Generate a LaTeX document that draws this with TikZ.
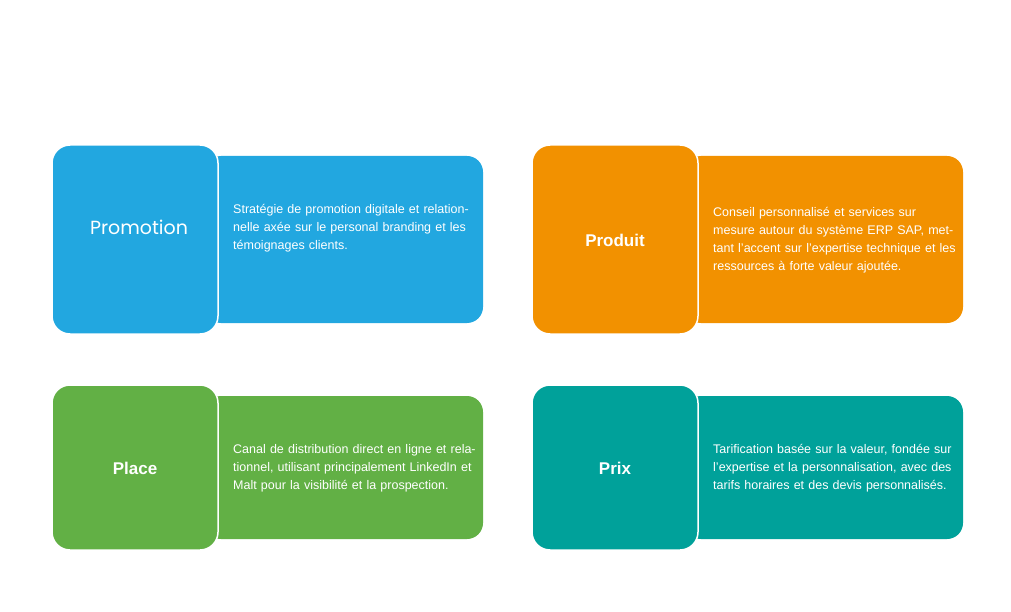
\documentclass[tikz,border=0pt]{standalone}
\usepackage{fontspec}
\setmainfont{Liberation Sans}
\newfontfamily\popf{Poppins}
\definecolor{cblue}{HTML}{22A7E0}
\definecolor{corange}{HTML}{F29100}
\definecolor{cgreen}{HTML}{62B045}
\definecolor{cteal}{HTML}{00A19A}
\begin{document}
\begin{tikzpicture}[x=1pt,y=-1pt,
  txtbox/.style={rounded corners=16pt},
  lblbox/.style={rounded corners=18pt,draw=white,line width=1.5pt},
  desc/.style={anchor=west,text=white,align=left,text width=250pt,font=\fontsize{12.5}{18}\selectfont,inner sep=0pt},
  lbl/.style={text=white,font=\bfseries\fontsize{17}{20}\selectfont}]
\useasboundingbox (0,0) rectangle (1011,612);
% Promotion
\fill[cblue,txtbox] (205,156) rectangle (483,323);
\filldraw[fill=cblue,lblbox] (52,145) rectangle (218,334);
\node[lbl,font=\popf\fontsize{19}{22}\selectfont] (l1) at (139,227) {Promotion};
\node[desc] (d1) at (233,228) {Stratégie de promotion digitale et relationnelle axée sur le personal branding et les témoignages clients.};
% Produit
\fill[corange,txtbox] (685,156) rectangle (963,323);
\filldraw[fill=corange,lblbox] (532,145) rectangle (698,334);
\node[lbl] (l2) at (615,240) {Produit};
\node[desc,text width=245pt] (d2) at (713,240) {Conseil personnalisé et services sur mesure autour du système ERP SAP, mettant l'accent sur l'expertise technique et les ressources à forte valeur ajoutée.};
% Place
\fill[cgreen,txtbox] (205,396) rectangle (483,539);
\filldraw[fill=cgreen,lblbox] (52,385) rectangle (218,550);
\node[lbl] (l3) at (135,468) {Place};
\node[desc] (d3) at (233,468) {Canal de distribution direct en ligne et relationnel, utilisant principalement LinkedIn et Malt pour la visibilité et la prospection.};
% Prix
\fill[cteal,txtbox] (685,396) rectangle (963,539);
\filldraw[fill=cteal,lblbox] (532,385) rectangle (698,550);
\node[lbl] (l4) at (615,468) {Prix};
\node[desc] (d4) at (713,468) {Tarification basée sur la valeur, fondée sur l'expertise et la personnalisation, avec des tarifs horaires et des devis personnalisés.};
\end{tikzpicture}
\end{document}
